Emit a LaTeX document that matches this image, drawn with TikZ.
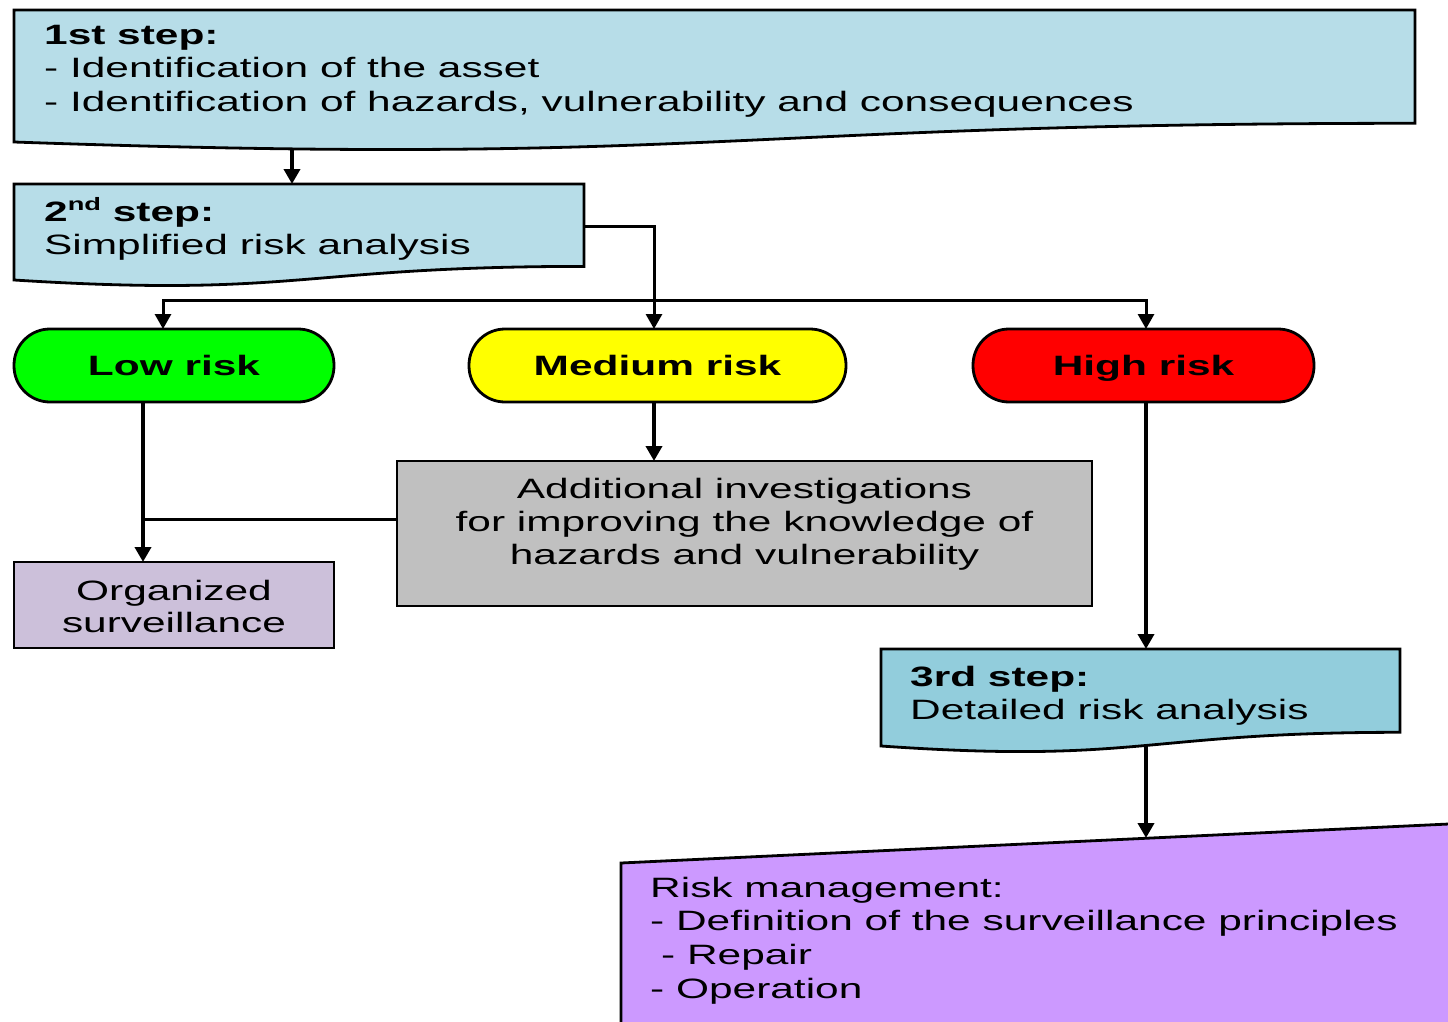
\documentclass[tikz,border=0pt]{standalone}
\usepackage{fontspec}
\setmainfont{Liberation Sans}[FakeStretch=1.515]
\usetikzlibrary{arrows.meta}
\definecolor{stepblue}{HTML}{B7DDE8}
\definecolor{stepdark}{HTML}{92CDDC}
\definecolor{orgcol}{HTML}{CCC0DA}
\definecolor{addcol}{HTML}{C0C0C0}
\definecolor{mgmtcol}{HTML}{CC99FF}
\definecolor{lowcol}{HTML}{00FF00}
\definecolor{medcol}{HTML}{FFFF00}
\definecolor{highcol}{HTML}{FF0000}
\begin{document}
\begin{tikzpicture}[x=1pt,y=-1pt,
  txt/.style={inner sep=0pt, font=\fontsize{28}{33.5}\selectfont, anchor=base west},
  btxt/.style={inner sep=0pt, font=\fontsize{28}{33.5}\selectfont\bfseries, anchor=base west},
  ctxt/.style={inner sep=0pt, font=\fontsize{28}{33.5}\selectfont, anchor=base},
  shapeline/.style={draw=black, line width=2.8pt, line join=miter},
  term/.style={draw=black, line width=2.8pt, rounded corners=36pt, minimum height=73pt,
    inner sep=0pt, text height=20pt, text depth=0pt, font=\fontsize{28}{33.5}\selectfont\bfseries},
  boxnode/.style={draw=black, line width=2.8pt, inner sep=0pt},
  tip/.tip={Triangle[width=16pt,length=15pt]},
  arr/.style={draw=black, line width=4pt, -tip},
  harr/.style={draw=black, line width=3pt, -tip},
  link/.style={draw=black, line width=3pt}]
\fill[white] (0,0) rectangle (1448,1022);
\useasboundingbox (0,0) rectangle (1448,1022);

% 1st step (document shape)
\path[shapeline, fill=stepblue] (14,10) -- (1415,10) -- (1415,123.3)
  .. controls (714.5,123.3) and (714.5,166.5) .. (14,142) -- cycle;
\node[btxt] (t1a) at (44,45) {1st step:};
\node[txt] (t1b) at (44,78) {- Identification of the asset};
\node[txt] (t1c) at (44,112) {- Identification of hazards, vulnerability and consequences};

% 2nd step
\path[shapeline, fill=stepblue] (14,184) -- (584,184) -- (584,266.4)
  .. controls (299,266.4) and (299,297.9) .. (14,280) -- cycle;
\node[btxt] (t2a) at (44,221) {2\raisebox{11pt}{\fontsize{18}{18}\selectfont\bfseries nd} step:};
\node[txt] (t2b) at (44,254) {Simplified risk analysis};

% risk levels
\node[term, fill=lowcol, minimum width=320pt] (low) at (174,365.5) {Low risk};
\node[term, fill=medcol, minimum width=377pt] (med) at (657.5,365.5) {Medium risk};
\node[term, fill=highcol, minimum width=341pt] (high) at (1143.5,365.5) {High risk};

% organized surveillance
\node[boxnode, fill=orgcol, minimum width=320pt, minimum height=86pt] (org) at (174,605) {};
\node[ctxt] (o1) at (174,600) {Organized};
\node[ctxt] (o2) at (174,632) {surveillance};

% additional investigations
\node[boxnode, fill=addcol, minimum width=695pt, minimum height=145pt] (add) at (744.5,533.5) {};
\node[ctxt] (a1) at (744.5,498) {Additional investigations};
\node[ctxt] (a2) at (744.5,531) {for improving the knowledge of};
\node[ctxt] (a3) at (744.5,564) {hazards and vulnerability};

% 3rd step
\path[shapeline, fill=stepdark] (881,649) -- (1400,649) -- (1400,732.3)
  .. controls (1140.5,732.3) and (1140.5,764.1) .. (881,746) -- cycle;
\node[btxt] (t3a) at (910,686) {3rd step:};
\node[txt] (t3b) at (910,719) {Detailed risk analysis};

% risk management
\path[shapeline, fill=mgmtcol] (621,863) -- (1470,823) -- (1470,1040) -- (621,1040) -- cycle;
\node[txt] (m1) at (650,897) {Risk management:};
\node[txt] (m2) at (650,930) {- Definition of the surveillance principles};
\node[txt] (m3) at (661,964) {- Repair};
\node[txt] (m4) at (650,998) {- Operation};

% connector points
\coordinate (s1out) at (292,149);
\coordinate (s2in) at (292,184);
\coordinate (s2out) at (584,226);
\coordinate (medin) at (654,329);
\coordinate (lowin) at (163,329);
\coordinate (busL) at (163,300);
\coordinate (busR) at (1146,300);
\coordinate (highin) at (1146,329);
\coordinate (lowout) at (143,402);
\coordinate (orgin) at (143,562);
\coordinate (addout) at (397,519);
\coordinate (lowjoin) at (143,519);
\coordinate (medout) at (654,402);
\coordinate (addin) at (654,461);
\coordinate (highout) at (1146,402);
\coordinate (s3in) at (1146,649);
\coordinate (s3out) at (1146,746);
\coordinate (mgmtin) at (1146,838);

% connectors
\draw[arr] (s1out) -- (s2in);
\draw[harr] (s2out) -| (medin);
\draw[link, tip-tip] (lowin) -- (busL) -- (busR) -- (highin);
\draw[arr] (lowout) -- (orgin);
\draw[link] (addout) -- (lowjoin);
\draw[arr] (medout) -- (addin);
\draw[arr] (highout) -- (s3in);
\draw[arr] (s3out) -- (mgmtin);
\end{tikzpicture}
\end{document}
